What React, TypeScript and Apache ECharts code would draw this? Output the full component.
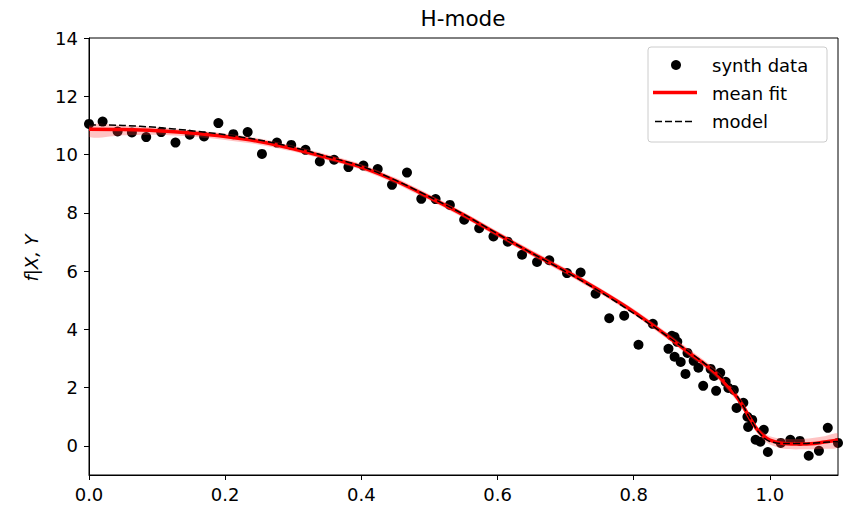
import React, { useEffect, useRef } from "react";
import * as echarts from "echarts";

const synthX = [
  0.0, 0.02, 0.042, 0.063, 0.084, 0.106, 0.127, 0.148, 0.169, 0.19, 0.212, 0.233, 0.254, 0.276, 0.297,
  0.318, 0.339, 0.36, 0.381, 0.403, 0.424, 0.445, 0.467, 0.488, 0.509, 0.53, 0.551, 0.573, 0.594, 0.615,
  0.636, 0.658, 0.676, 0.702, 0.722, 0.744, 0.764, 0.786, 0.807, 0.828,
  0.851, 0.856, 0.86, 0.864, 0.86, 0.869, 0.879, 0.876, 0.888, 0.895, 0.902, 0.913, 0.918, 0.927, 0.921,
  0.935, 0.939, 0.947, 0.951, 0.961, 0.967, 0.974, 0.968, 0.979, 0.991, 0.986, 0.997,
  1.016, 1.03, 1.044, 1.057, 1.072, 1.085, 1.1,
];
const synthY = [
  11.05, 11.13, 10.79, 10.76, 10.6, 10.77, 10.41, 10.68, 10.62, 11.08, 10.7, 10.77, 10.02, 10.41, 10.33,
  10.16, 9.76, 9.82, 9.57, 9.62, 9.5, 8.96, 9.38, 8.48, 8.47, 8.27, 7.76, 7.47, 7.19, 7.01,
  6.56, 6.31, 6.37, 5.93, 5.95, 5.22, 4.38, 4.47, 3.47, 4.19,
  3.33, 3.78, 3.74, 3.57, 3.06, 2.88, 3.19, 2.47, 2.92, 2.68, 2.06, 2.64, 2.4, 2.51, 1.89,
  2.2, 1.99, 1.92, 1.3, 1.48, 1.0, 0.89, 0.65, 0.21, 0.55, 0.14, -0.21,
  0.1, 0.21, 0.17, -0.34, -0.17, 0.62, 0.1,
];

const fitX = [
  0, 0.05, 0.1, 0.15, 0.2, 0.25, 0.3, 0.35, 0.4, 0.45, 0.5, 0.55, 0.6, 0.65, 0.7, 0.75, 0.8, 0.85,
  0.88, 0.9, 0.92, 0.94, 0.95, 0.96, 0.97, 0.98, 0.99, 1.0, 1.02, 1.05, 1.08, 1.1,
];
const meanFit = [
  10.87, 10.86, 10.82, 10.74, 10.62, 10.45, 10.2, 9.9, 9.57, 9.1, 8.53, 7.93, 7.27, 6.62, 6.0, 5.33, 4.6, 3.76,
  3.22, 2.88, 2.5, 2.0, 1.72, 1.38, 0.98, 0.6, 0.35, 0.2, 0.08, 0.06, 0.13, 0.2,
];
const modelY = [
  11.02, 11.0, 10.93, 10.82, 10.68, 10.5, 10.25, 9.93, 9.6, 9.12, 8.55, 7.95, 7.28, 6.62, 5.98, 5.3, 4.55, 3.75,
  3.25, 2.9, 2.55, 2.1, 1.78, 1.4, 0.98, 0.58, 0.3, 0.15, 0.08, 0.08, 0.12, 0.15,
];
const bandLower = [
  10.6, 10.66, 10.68, 10.62, 10.5, 10.34, 10.1, 9.8, 9.47, 9.0, 8.43, 7.83, 7.17, 6.52, 5.9, 5.23, 4.5, 3.65,
  3.1, 2.76, 2.37, 1.86, 1.58, 1.24, 0.85, 0.48, 0.22, 0.05, -0.1, -0.12, -0.1, -0.05,
];
const bandUpper = [
  11.02, 11.0, 10.94, 10.84, 10.72, 10.55, 10.3, 10.0, 9.67, 9.2, 8.63, 8.03, 7.37, 6.72, 6.1, 5.43, 4.7, 3.87,
  3.34, 3.0, 2.63, 2.14, 1.86, 1.52, 1.11, 0.72, 0.48, 0.33, 0.24, 0.24, 0.33, 0.42,
];

const yTicks = [0, 2, 4, 6, 8, 10, 12, 14];
const xTicks = [0, 0.2, 0.4, 0.6, 0.8, 1.0];

const FONT = "DejaVu Sans";

export default function App() {
  const ref = useRef<HTMLDivElement>(null);
  useEffect(() => {
    if (!ref.current) return;
    const chart = echarts.init(ref.current, null, { renderer: "svg" });
    const scatterData = synthX.map((x, i) => [x, synthY[i]]);
    const meanData = fitX.map((x, i) => [x, meanFit[i]]);
    const modelData = fitX.map((x, i) => [x, modelY[i]]);
    chart.setOption({
      animation: false,
      backgroundColor: "#fff",
      grid: {
        left: 89,
        top: 38,
        width: 749,
        height: 437,
        show: true,
        borderColor: "#000",
        borderWidth: 1,
        backgroundColor: "transparent",
      },
      xAxis: {
        type: "value",
        min: 0,
        max: 1.1,
        axisLine: { show: true, onZero: false, lineStyle: { color: "#000", width: 1 } },
        axisTick: { show: true, length: 5, customValues: xTicks, lineStyle: { color: "#000" } },
        axisLabel: {
          customValues: xTicks,
          formatter: (v: number) => v.toFixed(1),
          color: "#000",
          fontFamily: FONT,
          fontSize: 18,
          margin: 10,
        },
        splitLine: { show: false },
      },
      yAxis: {
        type: "value",
        min: -1,
        max: 14,
        axisLine: { show: true, onZero: false, lineStyle: { color: "#000", width: 1 } },
        axisTick: { show: true, length: 5, customValues: yTicks, lineStyle: { color: "#000" } },
        axisLabel: {
          customValues: yTicks,
          color: "#000",
          fontFamily: FONT,
          fontSize: 18,
          margin: 11,
        },
        splitLine: { show: false },
      },
      series: [
        {
          name: "synth data",
          type: "scatter",
          data: scatterData,
          symbol: "circle",
          symbolSize: 10,
          itemStyle: { color: "#000", opacity: 1 },
          emphasis: { disabled: true },
          z: 1,
        },
        {
          name: "band",
          type: "custom",
          data: [[0, 0]],
          clip: true,
          z: 2,
          renderItem: (params: any, api: any) => {
            const pts: number[][] = [];
            for (let i = 0; i < fitX.length; i++) pts.push(api.coord([fitX[i], bandUpper[i]]));
            for (let i = fitX.length - 1; i >= 0; i--) pts.push(api.coord([fitX[i], bandLower[i]]));
            return {
              type: "polygon",
              shape: { points: pts, smooth: 0.3 },
              style: { fill: "rgba(255,60,60,0.3)", stroke: "none" },
            };
          },
        },
        {
          name: "mean fit",
          type: "line",
          data: meanData,
          smooth: 0.3,
          symbol: "none",
          lineStyle: { color: "#ff0000", width: 3.5 },
          z: 3,
        },
        {
          name: "model",
          type: "line",
          data: modelData,
          smooth: 0.3,
          symbol: "none",
          lineStyle: { color: "#000", width: 1.5, type: [7, 3] },
          z: 4,
        },
      ],
      graphic: [
        {
          type: "text",
          style: {
            text: "H-mode",
            x: 463,
            y: 18,
            align: "center",
            verticalAlign: "middle",
            fill: "#000",
            font: `21.5px "${FONT}"`,
          },
        },
        {
          type: "text",
          x: 31,
          y: 258,
          rotation: Math.PI / 2,
          style: {
            text: "f|X, Y",
            align: "center",
            verticalAlign: "middle",
            fill: "#000",
            font: `italic 18px "${FONT}"`,
          },
        },
        {
          type: "group",
          z: 100,
          children: [
            {
              type: "rect",
              shape: { x: 648, y: 47, width: 179, height: 95, r: 3 },
              style: { fill: "rgba(255,255,255,0.85)", stroke: "#cccccc", lineWidth: 1 },
            },
            { type: "circle", shape: { cx: 676, cy: 65, r: 5 }, style: { fill: "#000" } },
            {
              type: "line",
              shape: { x1: 653, y1: 92.5, x2: 697, y2: 92.5 },
              style: { stroke: "#ff0000", lineWidth: 3.5 },
            },
            {
              type: "line",
              shape: { x1: 655, y1: 121.5, x2: 695, y2: 121.5 },
              style: { stroke: "#000", lineWidth: 1.5, lineDash: [7, 3] },
            },
            {
              type: "text",
              style: { text: "synth data", x: 712, y: 65, verticalAlign: "middle", fill: "#000", font: `18px "${FONT}"` },
            },
            {
              type: "text",
              style: { text: "mean fit", x: 712, y: 93, verticalAlign: "middle", fill: "#000", font: `18px "${FONT}"` },
            },
            {
              type: "text",
              style: { text: "model", x: 712, y: 121, verticalAlign: "middle", fill: "#000", font: `18px "${FONT}"` },
            },
          ],
        },
      ],
    });
    return () => chart.dispose();
  }, []);
  return <div ref={ref} style={{ width: 843, height: 508, position: "absolute", left: 0, top: 0 }} />;
}
